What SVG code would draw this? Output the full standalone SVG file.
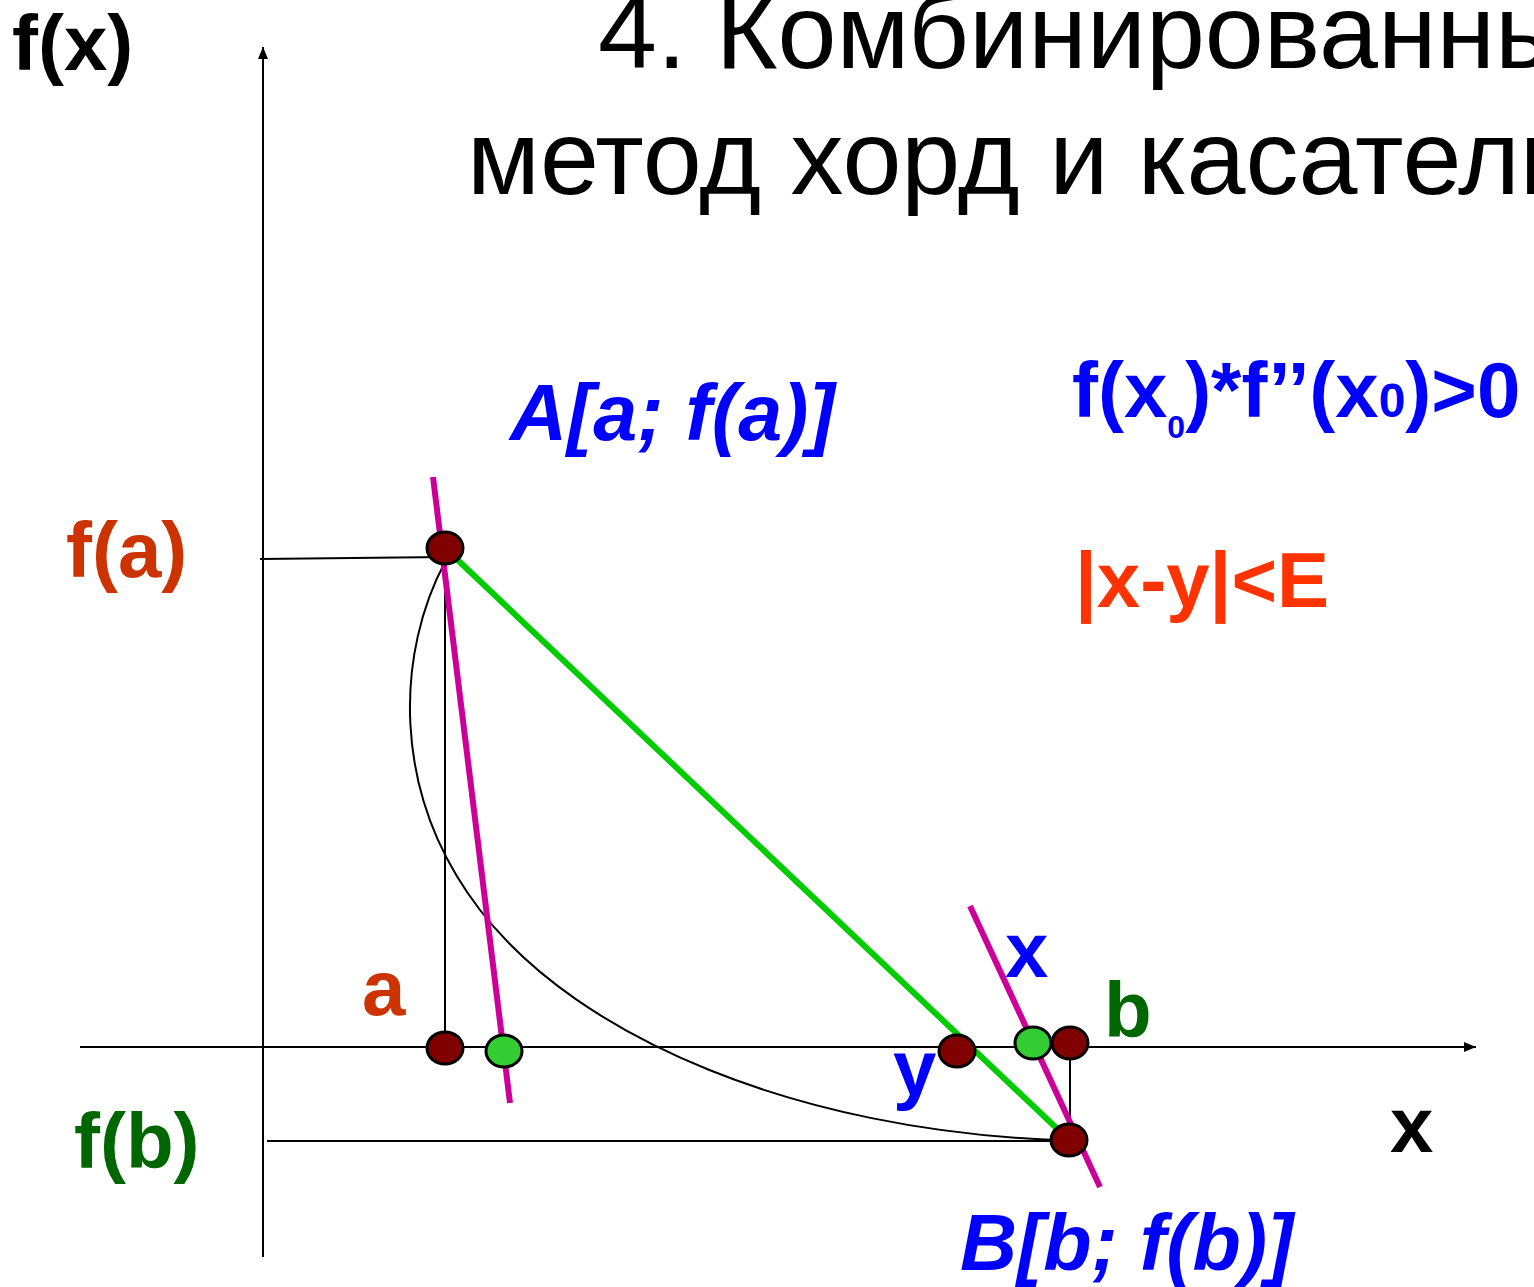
<svg xmlns="http://www.w3.org/2000/svg" width="1534" height="1287" viewBox="0 0 1534 1287">
<style>
.b{font-family:"Liberation Sans",Arial,sans-serif;font-weight:bold;font-size:78px}
.bi{font-family:"Liberation Sans",Arial,sans-serif;font-weight:bold;font-style:italic;font-size:79px;fill:#0000FF}
.t{font-family:"Liberation Sans",Arial,sans-serif;font-size:106px;fill:#000}
.thin{stroke:#000;stroke-width:2;fill:none}
.pt{fill:#800000;stroke:#000;stroke-width:3}
.gp{fill:#33CC33;stroke:#000;stroke-width:3}
.tan{stroke:#CC0099;stroke-width:6;fill:none}
</style>
<defs>
<marker id="ah" markerWidth="12" markerHeight="10" refX="12" refY="5" orient="auto" markerUnits="userSpaceOnUse">
<path d="M0,0 L12,5 L0,10 Z" fill="#000"/>
</marker>
</defs>
<rect width="1534" height="1287" fill="#fff"/>
<g id="title">
<text class="t" x="598" y="68">4. Комбинированный</text>
<text class="t" x="467" y="194">метод хорд и касательных</text>
</g>
<g id="connectors">
<line class="thin" x1="263" y1="1257" x2="263" y2="47" marker-end="url(#ah)"/>
<line class="thin" x1="80" y1="1047" x2="1476" y2="1047" marker-end="url(#ah)"/>
<line class="thin" x1="260" y1="559" x2="445" y2="557"/>
<line class="thin" x1="445" y1="548" x2="445" y2="1048"/>
<line class="thin" x1="267" y1="1141" x2="1069" y2="1141"/>
<line class="thin" x1="1070" y1="1043" x2="1070" y2="1140"/>
<path class="thin" d="M445,562 C398,650 388,790 480,910 C580,1040 800,1130 1055,1140"/>
<line x1="445" y1="548" x2="1069" y2="1140" stroke="#00CC00" stroke-width="6"/>
<line class="tan" x1="433" y1="477" x2="510" y2="1103"/>
<line class="tan" x1="970" y1="906" x2="1100" y2="1187"/>
</g>
<g id="pointA"><ellipse class="pt" cx="445" cy="548" rx="18" ry="16"/></g>
<g id="pointa"><ellipse class="pt" cx="445" cy="1048" rx="18" ry="16"/></g>
<g id="pointg1"><ellipse class="gp" cx="504" cy="1051" rx="18" ry="16"/></g>
<g id="pointy"><ellipse class="pt" cx="957" cy="1051" rx="18" ry="16"/></g>
<g id="pointg2"><ellipse class="gp" cx="1033" cy="1043" rx="18" ry="16"/></g>
<g id="pointb"><ellipse class="pt" cx="1070" cy="1043" rx="18" ry="16"/></g>
<g id="pointB"><ellipse class="pt" cx="1069" cy="1140" rx="18" ry="16"/></g>
<g id="labels">
<text class="b" x="12" y="70" fill="#000" font-size="77">f(x)</text>
<text class="b" x="66" y="577" fill="#CC3300">f(a)</text>
<text class="b" x="74" y="1168" fill="#006600">f(b)</text>
<text class="b" x="362" y="1015" fill="#CC3300">a</text>
<text class="b" x="1104" y="1037" fill="#006600">b</text>
<text class="b" x="1005" y="977" fill="#0000FF">x</text>
<text class="b" x="893" y="1095" fill="#0000FF">y</text>
<text class="b" x="1390" y="1152" fill="#000">x</text>
<text class="bi" x="510" y="440">A[a; f(a)]</text>
<text class="bi" x="960" y="1270">B[b; f(b)]</text>
<text class="b" x="1072" y="417" fill="#0000FF" font-size="81">f(x<tspan font-size="32" dy="21">0</tspan><tspan dy="-21">)*f’’(x</tspan><tspan font-size="48">0</tspan>)&gt;0</text>
<text class="b" x="1075" y="607" fill="#FF3300">|x-y|&lt;E</text>
</g>
</svg>
